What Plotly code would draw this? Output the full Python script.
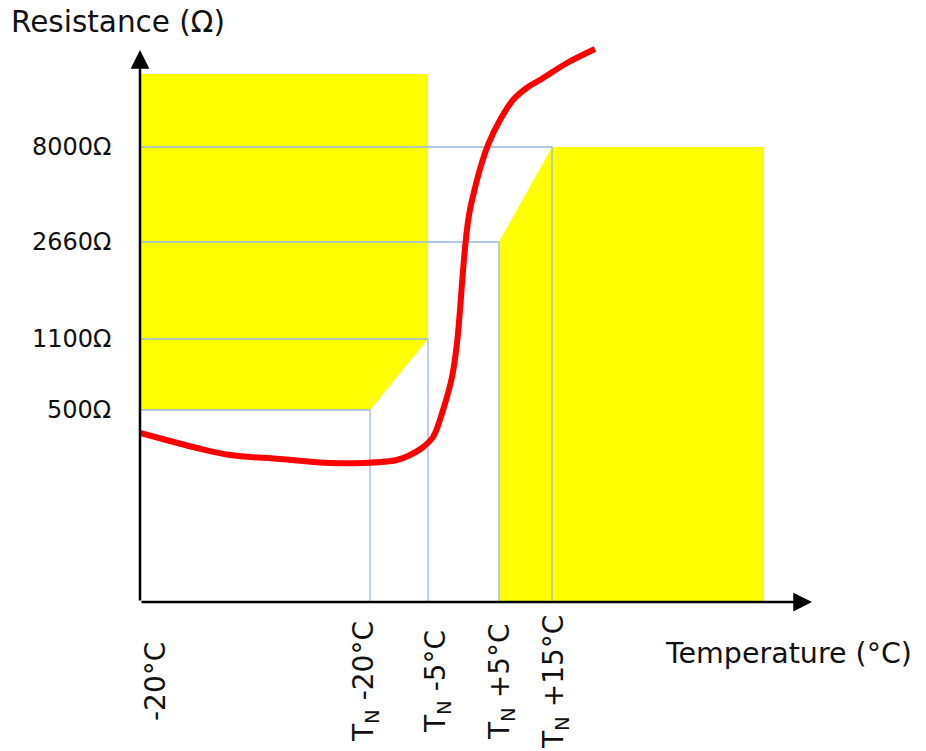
import plotly.graph_objects as go

# ---- schematic data (axis units: x = temperature position, y = resistance position) ----
x_tick_labels = ["-20°C", "T<sub>N</sub> -20°C", "T<sub>N</sub> -5°C", "T<sub>N</sub> +5°C", "T<sub>N</sub> +15°C"]
x_tick_pos = [0, 230, 288, 359, 412]

y_tick_labels = ["500Ω", "1100Ω", "2660Ω", "8000Ω"]
y_tick_pos = [192, 263, 360, 455]

# resistance curve (schematic PTC characteristic)
curve_x = [0, 30, 57, 90, 140, 190, 223, 257, 270, 282, 293, 303, 312, 317, 320, 322.5, 325.5, 329, 334, 340, 348,
           360, 373, 388, 400, 427, 455]
curve_y = [169, 161, 154, 147, 143, 139, 139, 142, 147, 154, 165, 192, 225, 259, 292, 325, 359, 387, 410, 433, 457,
           482, 502, 515, 522, 539, 553]

# forbidden zones
left_zone_top = 528
right_zone_end = 624

X_MAX = 672
Y_MAX = 557

fig = go.Figure()

# left yellow zone: above 500Ω up to T_N-20, ramp to 1100Ω at T_N-5
lx = [0, x_tick_pos[1], x_tick_pos[2], x_tick_pos[2], 0]
ly = [y_tick_pos[0], y_tick_pos[0], y_tick_pos[1], left_zone_top, left_zone_top]
fig.add_trace(go.Scatter(x=lx, y=ly, fill="toself", fillcolor="#FFFF00", mode="lines",
                         line=dict(width=0, color="#FFFF00"), hoverinfo="skip", showlegend=False))

# right yellow zone: below 2660Ω at T_N+5, ramp to 8000Ω at T_N+15
rx = [x_tick_pos[3], x_tick_pos[3], x_tick_pos[4], right_zone_end, right_zone_end]
ry = [0, y_tick_pos[2], y_tick_pos[3], y_tick_pos[3], 0]
fig.add_trace(go.Scatter(x=rx, y=ry, fill="toself", fillcolor="#FFFF00", mode="lines",
                         line=dict(width=0, color="#FFFF00"), hoverinfo="skip", showlegend=False))

# blue guide lines
gx, gy = [], []
for xp, yp in zip(x_tick_pos[1:], y_tick_pos):
    gx += [0, xp, xp, None]
    gy += [yp, yp, 0, None]
fig.add_trace(go.Scatter(x=gx, y=gy, mode="lines", line=dict(color="#98B9E3", width=1.3),
                         hoverinfo="skip", showlegend=False))

# red curve
fig.add_trace(go.Scatter(x=curve_x, y=curve_y, mode="lines",
                         line=dict(color="#FF0000", width=6, shape="spline", smoothing=1.0),
                         hoverinfo="skip", showlegend=False))

annotations = []
# axes arrows
annotations.append(dict(x=X_MAX, y=0, ax=0, ay=0, xref="x", yref="y", axref="x", ayref="y",
                        text="", showarrow=True, arrowhead=2, arrowsize=1.5, arrowwidth=2.5, arrowcolor="black"))
annotations.append(dict(x=0, y=552, ax=0, ay=0, xref="x", yref="y", axref="x", ayref="y",
                        text="", showarrow=True, arrowhead=2, arrowsize=1.5, arrowwidth=2.5, arrowcolor="black"))

font = "DejaVu Sans, Arial, sans-serif"
# y tick labels
for lab, yp in zip(y_tick_labels, y_tick_pos):
    annotations.append(dict(x=0, y=yp, xref="x", yref="y", text=lab, showarrow=False,
                            xanchor="right", yanchor="middle", xshift=-27,
                            font=dict(family=font, size=24, color="#111")))
# x tick labels (rotated)
x_shifts = [15, -5, 9, 2, 3]
for lab, xp, sh in zip(x_tick_labels, x_tick_pos, x_shifts):
    annotations.append(dict(x=xp, y=0, xref="x", yref="paper", text=lab, showarrow=False, textangle=-90,
                            xanchor="center", yanchor="middle", xshift=sh, yshift=-80,
                            font=dict(family=font, size=28, color="#111")))

# axis titles
annotations.append(dict(x=0, y=1, xref="x", yref="paper", text="Resistance (Ω)", showarrow=False,
                        xanchor="left", yanchor="middle", xshift=-131, yshift=23,
                        font=dict(family=font, size=29.5, color="#111")))
annotations.append(dict(x=523, y=0, xref="x", yref="paper", text="Temperature (°C)", showarrow=False,
                        xanchor="left", yanchor="middle", yshift=-51,
                        font=dict(family=font, size=28.5, color="#111")))

fig.update_layout(
    width=926, height=751,
    margin=dict(l=140, r=114, t=45, b=149),
    plot_bgcolor="white", paper_bgcolor="white",
    xaxis=dict(range=[0, X_MAX], visible=False, showgrid=False, zeroline=False, fixedrange=True),
    yaxis=dict(range=[0, Y_MAX], visible=False, showgrid=False, zeroline=False, fixedrange=True),
    annotations=annotations,
    showlegend=False,
)

fig.write_html("out.html", config={"displayModeBar": False},
               post_script="document.body.style.margin='0';")
